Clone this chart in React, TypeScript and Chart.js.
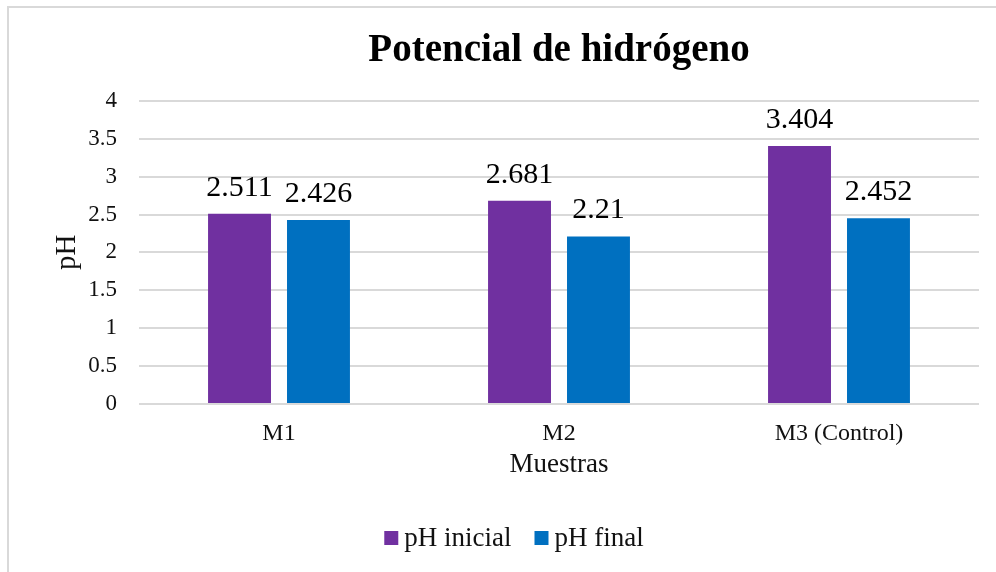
import { useEffect, useRef } from 'react';
import { Chart, registerables } from 'chart.js';

Chart.register(...registerables);

const categories = ['M1', 'M2', 'M3 (Control)'];
const phInicial = [2.511, 2.681, 3.404];
const phFinal = [2.426, 2.21, 2.452];
const seriesLabels = ['pH inicial', 'pH final'];
const seriesColors = ['#7030A0', '#0070C0'];
const chartTitle = 'Potencial de hidrógeno';
const xTitle = 'Muestras';
const yTitle = 'pH';

const FONT = "'Liberation Serif', 'Times New Roman', serif";
const TEXT = '#111111';
const GRID = '#d9d9d9';
const W = 996;
const H = 572;
const LEGEND_CX = 514;
const LEGEND_BASELINE = 546;

const dataLabels = {
  id: 'dataLabels',
  afterDatasetsDraw(chart: any) {
    const ctx = chart.ctx;
    ctx.save();
    ctx.font = `30px ${FONT}`;
    ctx.fillStyle = '#000';
    ctx.textAlign = 'center';
    ctx.textBaseline = 'alphabetic';
    chart.data.datasets.forEach((ds: any, i: number) => {
      const meta = chart.getDatasetMeta(i);
      meta.data.forEach((bar: any, j: number) => {
        ctx.fillText(String(ds.data[j]), bar.x, bar.y - 18);
      });
    });
    ctx.restore();
  },
};

const customLegend = {
  id: 'customLegend',
  afterDraw(chart: any) {
    const ctx = chart.ctx;
    ctx.save();
    ctx.font = `27px ${FONT}`;
    const box = 14;
    const gapText = 6;
    const gapItem = 23;
    const items = chart.data.datasets.map((ds: any) => ({
      label: ds.label,
      color: ds.backgroundColor,
      w: ctx.measureText(ds.label).width,
    }));
    const total =
      items.reduce((s: number, it: any) => s + box + gapText + it.w, 0) +
      gapItem * (items.length - 1);
    let x = LEGEND_CX - total / 2;
    items.forEach((it: any) => {
      ctx.fillStyle = it.color;
      ctx.fillRect(x, LEGEND_BASELINE - 15, box, box);
      x += box + gapText;
      ctx.fillStyle = TEXT;
      ctx.textAlign = 'left';
      ctx.textBaseline = 'alphabetic';
      ctx.fillText(it.label, x, LEGEND_BASELINE);
      x += it.w + gapItem;
    });
    ctx.restore();
  },
};

export default function App() {
  const ref = useRef<HTMLCanvasElement | null>(null);

  useEffect(() => {
    if (!ref.current) return;
    const chart = new Chart(ref.current, {
      type: 'bar',
      data: {
        labels: categories,
        datasets: [
          {
            label: seriesLabels[0],
            data: phInicial,
            backgroundColor: seriesColors[0],
            categoryPercentage: 0.564,
            barPercentage: 0.797,
          },
          {
            label: seriesLabels[1],
            data: phFinal,
            backgroundColor: seriesColors[1],
            categoryPercentage: 0.564,
            barPercentage: 0.797,
          },
        ],
      },
      options: {
        responsive: false,
        animation: false,
        devicePixelRatio: 1,
        layout: { padding: { left: 0, right: 17, top: 0, bottom: 86 } },
        plugins: {
          legend: { display: false },
          tooltip: { enabled: false },
          title: {
            display: true,
            text: chartTitle,
            fullSize: false,
            color: '#000',
            font: { family: FONT, size: 39, weight: 'bold' },
            padding: { top: 28, bottom: 26 },
          },
        },
        scales: {
          x: {
            grid: { display: false, drawTicks: false },
            border: { display: false },
            ticks: {
              color: TEXT,
              padding: 15,
              font: { family: FONT, size: 24 },
            },
            title: {
              display: true,
              text: xTitle,
              color: TEXT,
              font: { family: FONT, size: 27 },
              padding: { top: 0, bottom: 5 },
            },
            afterFit(scale: any) {
              scale.height = 82;
            },
          },
          y: {
            min: 0,
            max: 4,
            grid: { color: GRID, lineWidth: 2, drawTicks: false },
            border: { display: false },
            ticks: {
              stepSize: 0.5,
              color: TEXT,
              padding: 22,
              font: { family: FONT, size: 23 },
              callback: (v: any) => String(Math.round(Number(v) * 10) / 10),
            },
            title: {
              display: true,
              text: yTitle,
              color: TEXT,
              font: { family: FONT, size: 29 },
              padding: { top: 50, bottom: 0 },
            },
            afterFit(scale: any) {
              scale.width = 139;
            },
          },
        },
      },
      plugins: [dataLabels, customLegend],
    });
    return () => chart.destroy();
  }, []);

  return (
    <div
      style={{
        position: 'fixed',
        left: 0,
        top: 0,
        width: W,
        height: H,
        background: '#fff',
        overflow: 'hidden',
      }}
    >
      <div
        style={{
          position: 'absolute',
          left: 7,
          top: 6,
          width: W,
          height: H,
          borderLeft: `2px solid ${GRID}`,
          borderTop: `2px solid ${GRID}`,
        }}
      />
      <canvas
        ref={ref}
        width={W}
        height={H}
        style={{ position: 'absolute', left: 0, top: 0, width: W, height: H }}
      />
    </div>
  );
}
